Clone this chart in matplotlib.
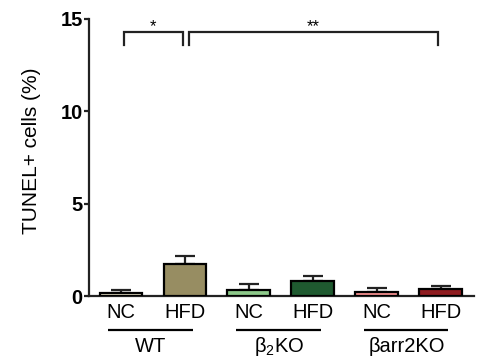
import matplotlib
matplotlib.use("Agg")
import matplotlib.pyplot as plt
import numpy as np

plt.rcParams['font.family'] = ['Liberation Sans', 'DejaVu Sans']
plt.rcParams['mathtext.fontset'] = 'custom'
plt.rcParams['mathtext.rm'] = 'Liberation Sans'
plt.rcParams['mathtext.it'] = 'Liberation Sans'

conditions = ["NC", "HFD", "NC", "HFD", "NC", "HFD"]
groups = ["WT", r"β$_2$KO", "βarr2KO"]
means = [0.17, 1.71, 0.34, 0.79, 0.22, 0.36]
sems = [0.15, 0.45, 0.32, 0.28, 0.20, 0.16]
colors = ["#e6dfc5", "#978d62", "#8dc98a", "#1f5a30", "#f58f8f", "#8f1c20"]
yticks = [0, 5, 10, 15]
ylabel = "TUNEL+ cells (%)"
sig_pairs = [(0, 1, "*"), (1, 5, "**")]

fig = plt.figure(figsize=(4.85, 3.58), dpi=100)
ax = fig.add_axes([89 / 485, 1 - 296 / 358, (474 - 89) / 485, (296 - 19) / 358])

x = np.arange(len(means))
ax.bar(x, means, width=0.67, color=colors, edgecolor="black", linewidth=1.6, zorder=3)
ax.errorbar(x, means, yerr=[np.zeros(len(sems)), sems], fmt="none", ecolor="#222222",
            elinewidth=1.6, capsize=7.5, capthick=1.6, zorder=2)

ax.set_xlim(-0.5, 5.52)
ax.set_ylim(0, 15)
ax.set_yticks(yticks)
ax.set_yticklabels([str(t) for t in yticks], fontsize=14.5, fontweight="bold")
ax.set_xticks([])
for s in ["top", "right"]:
    ax.spines[s].set_visible(False)
for s in ["left", "bottom"]:
    ax.spines[s].set_linewidth(1.6)
    ax.spines[s].set_color("#222222")
ax.tick_params(axis="y", length=3.5, width=1.6, pad=1, color="#222222")
ax.set_ylabel(ylabel, fontsize=15)
ax.yaxis.set_label_coords(-0.125, 0.523)

trans = ax.get_xaxis_transform()
h = 277.0
for i, c in enumerate(conditions):
    ax.text(x[i], (296 - 313) / h, c, transform=trans, ha="center", va="center", fontsize=14.5)
for g, name in enumerate(groups):
    x0 = 2 * g - 0.2
    x1 = 2 * g + 1.12
    ax.plot([x0, x1], [(296 - 330) / h] * 2, transform=trans, color="black", lw=1.6,
            clip_on=False, solid_capstyle="butt")
    ax.text(2 * g + 0.47, (296 - 347) / h, name, transform=trans, ha="center", va="center",
            fontsize=14.5)

for a, b, lab in sig_pairs:
    xa = a + 0.04 if a == 0 else a + 0.07
    xb = b - 0.03 if b == 1 else b - 0.05
    top, bot = 14.27, 13.6
    ax.plot([xa, xa, xb, xb], [bot, top, top, bot], color="#222222", lw=1.6, clip_on=False,
            solid_joinstyle="miter")
    ax.text((xa + xb) / 2, 14.2, lab, ha="center", va="bottom", fontsize=12)

fig.savefig("out.png", dpi=100)
